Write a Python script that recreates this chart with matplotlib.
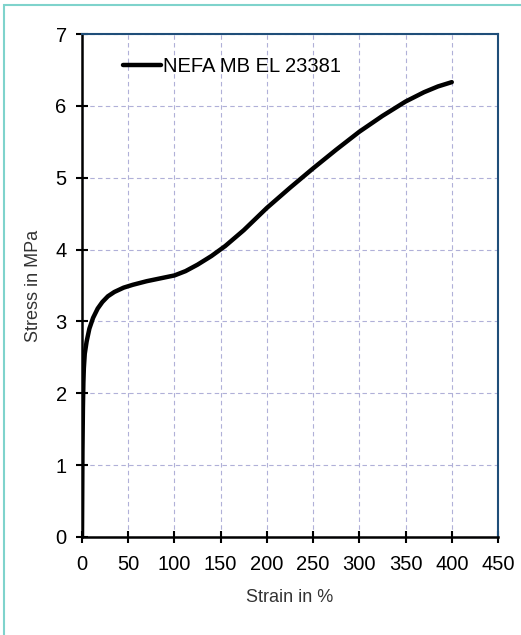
import matplotlib.pyplot as plt
from matplotlib.patches import Rectangle

plt.rcParams['font.family'] = ['Liberation Sans', 'DejaVu Sans']

# stress-strain curve
strain = [0, 0.5, 1, 1.5, 2, 3, 5, 8, 12, 17, 22, 28, 35, 45, 55, 70, 85, 100,
          112, 125, 140, 155, 175, 200, 225, 250, 275, 300, 325, 350, 370, 385, 400]
stress = [0, 1.2, 1.8, 2.15, 2.35, 2.55, 2.72, 2.9, 3.05, 3.18, 3.27, 3.35, 3.41,
          3.47, 3.51, 3.56, 3.6, 3.64, 3.7, 3.79, 3.91, 4.05, 4.27, 4.58, 4.86,
          5.13, 5.39, 5.64, 5.86, 6.06, 6.19, 6.27, 6.33]
series_name = 'NEFA MB EL 23381'
xticks = list(range(0, 451, 50))
yticks = list(range(0, 8))

fig = plt.figure(figsize=(5.21, 6.35), dpi=100)
fig.patches.append(Rectangle((4 / 521, -0.01), 1.0, 1 - 5 / 635 + 0.01,
                             transform=fig.transFigure, fill=False,
                             edgecolor='#7fd3cc', linewidth=1.5))
ax = fig.add_axes([82 / 521, 1 - 537 / 635, 416 / 521, 503 / 635])

ax.plot(strain, stress, color='black', linewidth=3.2, label=series_name,
        solid_capstyle='round')
ax.set_xlim(0, 450)
ax.set_ylim(0, 7)
ax.set_xticks(xticks)
ax.set_yticks(yticks)
ax.grid(True, color='#b0b0d8', linestyle=(0, (4, 3)), linewidth=0.8)
ax.set_axisbelow(True)
ax.tick_params(direction='inout', length=8, width=1.5, labelsize=14.5)
ax.tick_params(axis='x', pad=9)
ax.tick_params(axis='y', pad=7)
for s in ['left', 'bottom']:
    ax.spines[s].set_color('black')
    ax.spines[s].set_linewidth(1.8)
for s in ['top', 'right']:
    ax.spines[s].set_color('#1f4e79')
    ax.spines[s].set_linewidth(1.5)
ax.set_xlabel('Strain in %', fontsize=13, color='#333333', labelpad=11)
ax.set_ylabel('Stress in MPa', fontsize=13, color='#333333', labelpad=10)

ax.legend(loc='upper left', bbox_to_anchor=(0.055, 0.99), frameon=False,
          fontsize=14.5, handlelength=1.9, handletextpad=0.1)

fig.savefig('out.png', dpi=100)
